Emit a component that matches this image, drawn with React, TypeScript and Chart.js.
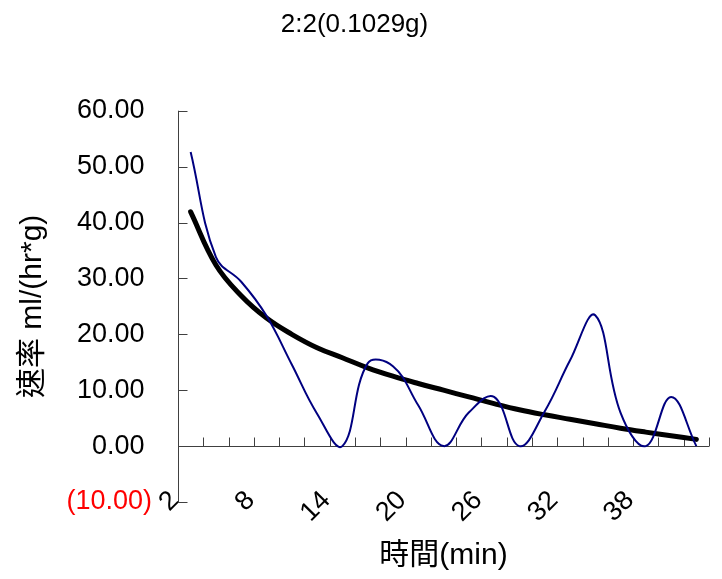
import React, { useEffect, useRef } from 'react';
import { Chart, registerables } from 'chart.js';

Chart.register(...registerables);

// Time in minutes (category axis)
const categories = ['2', '4', '6', '8', '10', '12', '14', '16', '18', '20', '22', '24', '26', '28', '30', '32', '34', '36', '38', '40', '42'];
// Measured rate ml/(hr*g)
const rateValues = [52.6, 33.8, 29.4, 23.3, 14.6, 5.8, 0, 14.8, 14.3, 7.3, 0, 6.0, 8.8, 0, 6.2, 15.3, 23.4, 6.0, 0, 8.8, 0];
// Trend line
const trendValues = [41.9, 32.4, 26.9, 22.9, 20.0, 17.6, 15.8, 14.0, 12.5, 11.2, 10.0, 8.8, 7.6, 6.5, 5.6, 4.8, 4.0, 3.2, 2.5, 1.85, 1.2];
// Y axis range / ticks
const Y_MIN = -10;
const Y_MAX = 60;
const Y_STEP = 10;
const LABEL_EVERY = 3;

const chartTitle = '2:2(0.1029g)';
const xTitle = '時間(min)';
const yTitle = '速率 ml/(hr*g)';

const FAMILY = "'Liberation Sans', Arial, 'Noto Sans CJK TC', 'Noto Sans CJK SC', sans-serif";

const axesPlugin = {
  id: 'excelAxes',
  beforeDatasetsDraw(chart: any) {
    const { ctx, chartArea, scales } = chart;
    const xs = scales.x;
    const ys = scales.y;
    ctx.save();
    ctx.strokeStyle = '#404040';
    ctx.lineWidth = 1;
    ctx.beginPath();
    const left = Math.round(chartArea.left) + 0.5;
    const yTop = ys.getPixelForValue(Y_MAX);
    const yBot = ys.getPixelForValue(Y_MIN);
    ctx.moveTo(left, yTop);
    ctx.lineTo(left, yBot);
    ys.ticks.forEach((t: any) => {
      const py = Math.round(ys.getPixelForValue(t.value)) + 0.5;
      ctx.moveTo(left, py);
      ctx.lineTo(left + 9, py);
    });
    const y0 = Math.round(ys.getPixelForValue(0)) + 0.5;
    ctx.moveTo(left, y0);
    ctx.lineTo(chartArea.right, y0);
    for (let i = 0; i <= categories.length; i++) {
      const px = Math.round(xs.getPixelForValue(i - 0.5)) + 0.5;
      ctx.moveTo(px, y0);
      ctx.lineTo(px, y0 - 9);
    }
    ctx.stroke();

    // Category labels at the low end of the value axis, rotated 45°
    ctx.fillStyle = '#000';
    ctx.font = `27px ${FAMILY}`;
    ctx.textAlign = 'right';
    ctx.textBaseline = 'middle';
    for (let i = 0; i < categories.length; i += LABEL_EVERY) {
      const px = xs.getPixelForValue(i);
      ctx.save();
      ctx.translate(px - 16, yBot - 6);
      ctx.rotate(-Math.PI / 4);
      ctx.fillText(categories[i], 0, 0);
      ctx.restore();
    }
    ctx.restore();
  },
};

export default function App() {
  const ref = useRef<HTMLCanvasElement | null>(null);

  useEffect(() => {
    if (!ref.current) return;
    const chart = new Chart(ref.current, {
      type: 'line',
      data: {
        labels: categories,
        datasets: [
          {
            data: rateValues,
            borderColor: '#000080',
            borderWidth: 2,
            pointRadius: 0,
            tension: 0.4,
            fill: false,
          },
          {
            data: trendValues,
            borderColor: '#000000',
            borderWidth: 5,
            borderCapStyle: 'round',
            pointRadius: 0,
            tension: 0.4,
            fill: false,
          },
        ],
      },
      options: {
        animation: false,
        responsive: false,
        events: [],
        layout: { padding: { left: 0, right: 13, top: 0, bottom: 0 } },
        plugins: {
          legend: { display: false },
          tooltip: { enabled: false },
          title: {
            display: true,
            text: chartTitle,
            color: '#000',
            font: { family: FAMILY, size: 26, weight: 'normal' },
            padding: { top: 9, bottom: 70.5 },
          },
        },
        scales: {
          x: {
            type: 'category',
            offset: true,
            grid: { display: false, drawTicks: false },
            border: { display: false },
            ticks: { display: false },
            title: {
              display: true,
              text: xTitle,
              color: '#000',
              font: { family: FAMILY, size: 30 },
              padding: { top: 0, bottom: 5 },
            },
            afterFit: (s: any) => {
              s.height = 77;
            },
          },
          y: {
            min: Y_MIN,
            max: Y_MAX,
            grid: { display: false, drawTicks: false },
            border: { display: false },
            ticks: {
              stepSize: Y_STEP,
              padding: 26,
              font: { family: FAMILY, size: 27 },
              color: (c: any) => (c.tick && c.tick.value < 0 ? '#ff0000' : '#000000'),
              callback: (v: any) => {
                const n = Number(v);
                return n < 0 ? `(${Math.abs(n).toFixed(2)})` : `${n.toFixed(2)} `;
              },
            },
            title: {
              display: true,
              text: yTitle,
              color: '#000',
              font: { family: FAMILY, size: 30 },
              padding: { top: 15, bottom: 0 },
            },
            afterFit: (s: any) => {
              s.width = 178;
            },
          },
        },
      },
      plugins: [axesPlugin],
    } as any);
    return () => chart.destroy();
  }, []);

  return (
    <div style={{ position: 'fixed', left: 0, top: 0, width: 722, height: 579, background: '#fff' }}>
      <canvas ref={ref} width={722} height={579} style={{ width: 722, height: 579 }} />
    </div>
  );
}
